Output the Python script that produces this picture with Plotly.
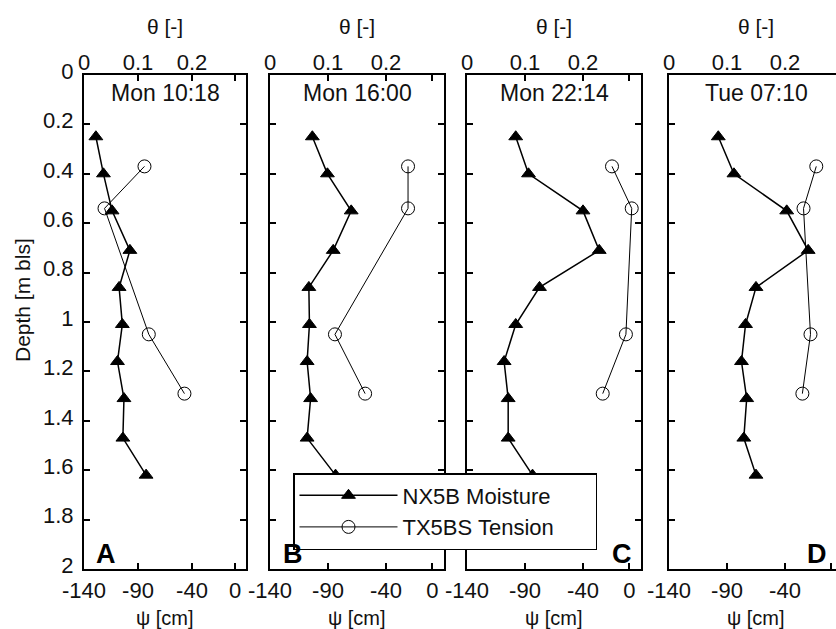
import plotly.graph_objects as go

# ---------------- data ----------------
panel_titles = ["Mon 10:18", "Mon 16:00", "Mon 22:14", "Tue 07:10"]
panel_letters = ["A", "B", "C", "D"]
series_names = ["NX5B Moisture", "TX5BS Tension"]

depth_nx = [0.25, 0.40, 0.55, 0.71, 0.86, 1.01, 1.16, 1.31, 1.47, 1.62]
theta_A = [0.022, 0.036, 0.052, 0.085, 0.065, 0.071, 0.062, 0.074, 0.072, 0.115]
theta_B = [0.073, 0.099, 0.140, 0.109, 0.067, 0.068, 0.064, 0.070, 0.064, 0.113]
theta_C = [0.084, 0.106, 0.200, 0.228, 0.125, 0.084, 0.064, 0.071, 0.071, 0.113]
theta_D = [0.085, 0.112, 0.203, 0.240, 0.150, 0.132, 0.125, 0.134, 0.129, 0.150]

depth_tx = [0.37, 0.54, 1.05, 1.29]
psi_A = [-84, -121, -80, -47]
psi_B = [-21, -21, -84, -58]
psi_C = [-15, 2, -3, -23]
psi_D = [-13, -24, -18, -25]

theta_sets = [theta_A, theta_B, theta_C, theta_D]
psi_sets = [psi_A, psi_B, psi_C, psi_D]

psi_ticks = [-140, -90, -40, 0]
psi_ticklabels = ["-140", "-90", "-40", "0"]
theta_ticks = [0, 0.1, 0.2]
theta_ticklabels = ["0", "0.1", "0.2"]
depth_ticks = [0, 0.2, 0.4, 0.6, 0.8, 1, 1.2, 1.4, 1.6, 1.8, 2]

# ---------------- layout geometry ----------------
W, H = 836, 629
FONT = "Liberation Sans, Arial, sans-serif"
FS = 22
px_lr = [(84, 246), (270, 444), (467, 641), (669, 836)]
psi_max = [10, 10, 10, 4]
theta_max = [(p + 140) / 500.0 for p in psi_max]
top_px, bot_px = 75, 569
ydom = [1 - bot_px / H, 1 - top_px / H]
PAD = "\u00a0" * 6

fig = go.Figure()
layout = dict(
    width=W, height=H,
    margin=dict(l=0, r=0, t=0, b=0, autoexpand=False),
    paper_bgcolor="white", plot_bgcolor="white",
    font=dict(family=FONT, size=FS, color="#111111"),
    showlegend=True,
    legend=dict(
        x=293 / W, y=1 - 473 / H, xanchor="left", yanchor="top",
        bgcolor="white", bordercolor="black", borderwidth=1.5,
        font=dict(size=FS, family=FONT), itemwidth=98,
        tracegroupgap=0,
    ),
)
annotations = []

for i in range(4):
    xb = f"x{2*i+1}" if i > 0 else "x"
    xt = f"x{2*i+2}"
    yk = f"y{i+1}" if i > 0 else "y"
    xb_l = "xaxis" + (str(2 * i + 1) if i > 0 else "")
    xt_l = "xaxis" + str(2 * i + 2)
    y_l = "yaxis" + (str(i + 1) if i > 0 else "")
    dom = [px_lr[i][0] / W, px_lr[i][1] / W]

    layout[xb_l] = dict(
        domain=dom, anchor=yk, range=[-140, psi_max[i]],
        tickvals=psi_ticks, ticktext=psi_ticklabels,
        ticks="inside", ticklen=6, tickwidth=1.5, tickcolor="black",
        showline=True, linecolor="black", linewidth=2,
        mirror="ticks" if i < 3 else True,
        showgrid=False, zeroline=False, ticklabelstandoff=1,
        tickfont=dict(size=FS), automargin=False,
    )
    layout[xt_l] = dict(
        domain=dom, anchor=yk, overlaying=xb, side="top",
        range=[0, theta_max[i]], tickvals=theta_ticks,
        ticktext=theta_ticklabels, ticks="", showline=False,
        showgrid=False, zeroline=False, ticklabelstandoff=0,
        tickfont=dict(size=FS), automargin=False,
    )
    layout[y_l] = dict(
        domain=ydom, anchor=xb, range=[2, 0],
        tickvals=depth_ticks, ticks="inside", ticklen=6, tickwidth=1.5,
        tickcolor="black", showline=True, linecolor="black", linewidth=2,
        mirror="ticks" if i < 3 else False, showgrid=False, zeroline=False,
        showticklabels=(i == 0), ticklabelstandoff=4, ticklabelshift=4,
        tickfont=dict(size=FS), automargin=False,
    )

    fig.add_trace(go.Scatter(
        x=theta_sets[i], y=depth_nx, xaxis=xt, yaxis=yk,
        mode="lines+markers", name=series_names[0] + PAD, legendgroup="nx",
        showlegend=(i == 0),
        line=dict(color="black", width=1.5),
        marker=dict(symbol="triangle-up", size=12, color="black",
                    line=dict(color="black", width=1)),
    ))
    fig.add_trace(go.Scatter(
        x=psi_sets[i], y=depth_tx, xaxis=xb, yaxis=yk,
        mode="lines+markers", name=series_names[1] + PAD, legendgroup="tx",
        showlegend=(i == 0),
        line=dict(color="black", width=1),
        marker=dict(symbol="circle-open", size=13, color="black",
                    line=dict(color="black", width=1)),
    ))

    cx = (px_lr[i][0] + (px_lr[i][1] if i < 3 else 843)) / 2 / W
    annotations.append(dict(text=panel_titles[i], x=cx, y=1 - 93 / H,
                            xref="paper", yref="paper", showarrow=False,
                            xanchor="center", yanchor="middle",
                            font=dict(size=23)))
    annotations.append(dict(text="θ [-]", x=cx, y=1 - 27 / H,
                            xref="paper", yref="paper", showarrow=False,
                            xanchor="center", yanchor="middle",
                            font=dict(size=21)))
    annotations.append(dict(text="ψ [cm]", x=cx, y=1 - 618 / H,
                            xref="paper", yref="paper", showarrow=False,
                            xanchor="center", yanchor="middle",
                            font=dict(size=20)))
    letter_x = [106, 293, 622, 817][i]
    annotations.append(dict(text="<b>" + panel_letters[i] + "</b>",
                            x=letter_x / W, y=1 - 554 / H,
                            xref="paper", yref="paper", showarrow=False,
                            xanchor="center", yanchor="middle",
                            font=dict(size=27, color="black")))

annotations.append(dict(text="Depth [m bls]", x=22 / W, y=1 - 300 / H,
                        xref="paper", yref="paper", showarrow=False,
                        textangle=-90, xanchor="center", yanchor="middle",
                        font=dict(size=21)))
layout["annotations"] = annotations
fig.update_layout(**layout)
fig.write_html("out.html")
